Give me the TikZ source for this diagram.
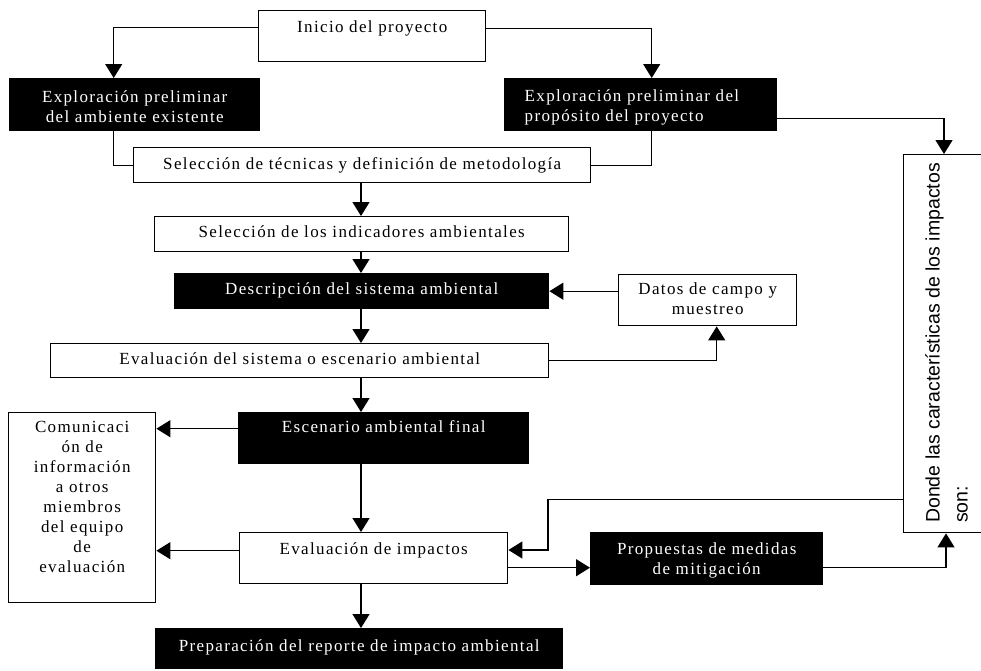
\documentclass[tikz,border=0pt]{standalone}
\usepackage{fontspec}
\setmainfont{Liberation Serif}[LetterSpace=8]
\newfontfamily\sfx{Liberation Sans}
\usetikzlibrary{arrows.meta,calc}
\tikzset{
  box/.style={draw=black, line width=1.4pt, inner sep=0pt, anchor=north west, fill=white, text=black},
  dark/.style={box, fill=black, text=white},
  conn/.style={line width=1.3pt},
  arr/.style={conn, -{Triangle[width=17pt,length=14pt]}},
}
\newcommand\bt[4]{\parbox[c][#2pt][t]{#1pt}{\centering\vspace*{#3pt}\strut #4}}
\begin{document}
\begin{tikzpicture}[x=1pt, y=-1pt, font=\fontsize{17}{20}\selectfont]
\path[use as bounding box, fill=white] (0,0) rectangle (981,670);
\clip (0,0) rectangle (981,670);

% boxes
\node[box]  (inicio) at (258,10)  {\bt{227}{51}{7.5}{Inicio del proyecto}};
\node[dark] (exp1)   at (9,78)    {\bt{250}{52}{9.5}{Exploración preliminar\\del ambiente existente}};
\node[dark] (exp2)   at (504,78)  {\parbox[c][52pt][t]{272pt}{\raggedright\leftskip=20pt\vspace*{8.5pt}\strut Exploración preliminar del\\propósito del proyecto}};
\node[box]  (tec)    at (133,147) {\bt{457}{35}{7.5}{Selección de técnicas y definición de metodología}};
\node[box]  (ind)    at (154,216) {\bt{414}{35}{6.5}{Selección de los indicadores ambientales}};
\node[dark] (desc)   at (174,273) {\bt{374}{35}{6.5}{Descripción del sistema ambiental}};
\node[box]  (datos)  at (618,274) {\bt{178}{51}{5.5}{Datos de campo y\\muestreo}};
\node[box]  (evsis)  at (50,343)  {\bt{498}{34}{6.5}{Evaluación del sistema o escenario ambiental}};
\node[dark] (esc)    at (238,412) {\bt{290}{51}{5.5}{Escenario ambiental final}};
\node[box]  (com)    at (8,412)   {\bt{147}{190}{5.5}{Comunicaci\\ón de\\información\\a otros\\miembros\\del equipo\\de\\evaluación}};
\node[box]  (evimp)  at (239,532) {\bt{268}{51}{7.5}{Evaluación de impactos}};
\node[dark] (prop)   at (590,532) {\bt{232}{52}{7.5}{Propuestas de medidas\\de mitigación}};
\node[dark] (prep)   at (155,628) {\bt{407}{40}{8.5}{Preparación del reporte de impacto ambiental}};
\node[box, minimum width=100pt, minimum height=378pt] (impact) at (903,154) {};
\node[rotate=90, anchor=north west, inner sep=0pt, align=left,
      font=\sfx\fontsize{19.5}{28}\selectfont] (imptxt) at (925,523)
      {Donde las características de los impactos\\son:};

% connectors
\coordinate (spine) at (361,0);
\draw[arr] ([yshift=8.5pt]inicio.west) -| ([xshift=-21pt]exp1.north);
\draw[arr] ([yshift=8pt]inicio.east) -| ([xshift=11pt]exp2.north);
\draw[arr] ([yshift=-14pt]exp2.east) -| ([xshift=41pt]impact.north west);
\draw[conn] ([xshift=-21pt]exp1.south) |- (tec.west);
\draw[conn] ([xshift=11pt]exp2.south) |- (tec.east);
\draw[arr] (tec.south -| spine) -- (ind.north -| spine);
\draw[arr] (ind.south -| spine) -- (desc.north -| spine);
\draw[arr] (desc.south -| spine) -- (evsis.north -| spine);
\draw[arr] (evsis.south -| spine) -- (esc.north -| spine);
\draw[arr] (esc.south -| spine) -- (evimp.north -| spine);
\draw[arr] (evimp.south -| spine) -- (prep.north -| spine);
\draw[arr] (datos.west |- desc.east) -- (desc.east);
\draw[arr] (evsis.east) -| ([xshift=9pt]datos.south);
\coordinate (c1) at ([yshift=9.5pt]esc.west);
\draw[arr] (c1) -- (c1 -| com.east);
\coordinate (c2) at ([yshift=7.5pt]evimp.west);
\draw[arr] (c2) -- (c2 -| com.east);
\coordinate (c3) at ([yshift=-9.5pt]evimp.east);
\draw[arr] (c3) -- (c3 -| prop.west);
\coordinate (c4) at ([yshift=-9pt]prop.east);
\draw[arr] (c4) -| ([xshift=43pt]impact.south west);
\coordinate (c5) at ([yshift=34pt]impact.south west);
\coordinate (bend) at (548,550);
\draw[arr] (c5) -| (bend) -- (bend -| evimp.east);
\end{tikzpicture}
\end{document}
